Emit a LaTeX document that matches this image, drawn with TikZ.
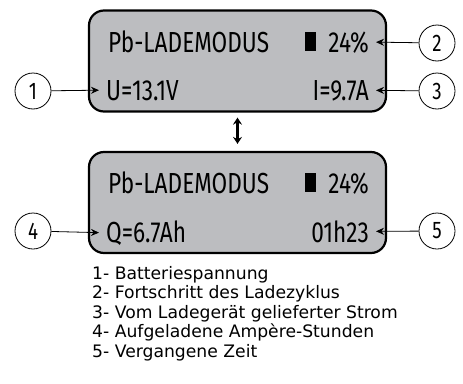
\documentclass[tikz,border=0pt]{standalone}
\usepackage{fontspec}
\usetikzlibrary{positioning, arrows.meta}
\newfontfamily\lcdfont[FakeStretch=0.78]{Fira Sans}
\newfontfamily\legendfont{DejaVu Sans}
\definecolor{lcdgray}{HTML}{BCBDC0}

\begin{document}
\begin{tikzpicture}[x=1pt, y=-1pt, node distance=19.5pt, on grid,
    screen/.style={draw, line width=2.2pt, fill=lcdgray, rounded corners=15pt,
        minimum width=297pt, minimum height=101pt, inner sep=0pt},
    lcd/.style={font=\lcdfont\fontsize{29}{29}\selectfont, inner sep=0pt},
    num/.style={draw, circle, line width=0.8pt, minimum size=36pt, inner sep=0pt,
        font=\lcdfont\fontsize{24}{24}\selectfont},
    ptr/.style={-{Stealth[length=8pt, width=7pt]}, line width=0.8pt},
    legend/.style={font=\legendfont\fontsize{17.2}{17}\selectfont, inner sep=0pt,
        text height=12pt, text depth=3.5pt, anchor=west}]
  \useasboundingbox (0,0) rectangle (463,383);

  % screens
  \node[screen] (upper) at (237.5,61) {};
  \node[screen] (lower) at (237.5,202.5) {};

  % upper screen texts
  \node[lcd, anchor=base west] (mode1) at (108,52) {Pb-LADEMODUS};
  \node[lcd, anchor=base east] (pct1) at (369,52) {24\%};
  \fill (305,32) rectangle (316,51);
  \node[lcd, anchor=base west] (volt) at (106,100) {U=13.1V};
  \node[lcd, anchor=base east] (amp) at (369,100) {I=9.7A};

  % lower screen texts
  \node[lcd, anchor=base west] (mode2) at (108,193) {Pb-LADEMODUS};
  \node[lcd, anchor=base east] (pct2) at (369,193) {24\%};
  \fill (305,173) rectangle (316,192);
  \node[lcd, anchor=base west] (charge) at (106,242) {Q=6.7Ah};
  \node[lcd, anchor=base east] (time) at (369,242) {01h23};

  % numbered markers
  \node[num] (n1) at (33,91) {1};
  \node[num] (n2) at (437,43) {2};
  \node[num] (n3) at (437,91) {3};
  \node[num] (n4) at (33,231) {4};
  \node[num] (n5) at (437,231) {5};

  \draw[ptr] (n1) -- (volt.west -| 99,0);
  \draw[ptr] (n2) -- (pct1.east -| 376,0);
  \draw[ptr] (n3) -- (amp.east -| 376,0);
  \draw[ptr] (n4) -- (charge.west -| 99,0);
  \draw[ptr] (n5) -- (time.east -| 376,0);

  % screen toggle
  \draw[{Stealth[length=7pt, width=9pt]}-{Stealth[length=7pt, width=9pt]}, line width=2.4pt]
    ([yshift=-5pt]upper.south) -- ([yshift=7pt]lower.north);

  % legend
  \node[legend] (l1) at (92,275) {1- Batteriespannung};
  \node[legend, below=of l1.west, anchor=west] (l2) {2- Fortschritt des Ladezyklus};
  \node[legend, below=of l2.west, anchor=west] (l3) {3- Vom Ladegerät gelieferter Strom};
  \node[legend, below=of l3.west, anchor=west] (l4) {4- Aufgeladene Ampère-Stunden};
  \node[legend, below=of l4.west, anchor=west] (l5) {5- Vergangene Zeit};
\end{tikzpicture}
\end{document}
